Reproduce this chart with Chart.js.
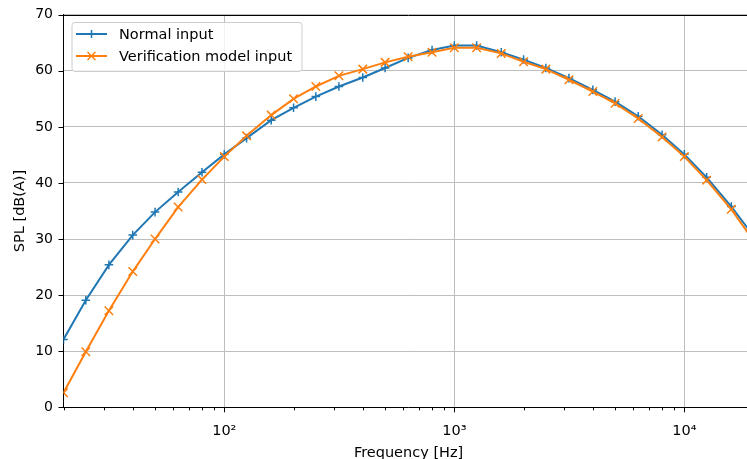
<!DOCTYPE html>
<html>
<head>
<meta charset="utf-8">
<script src="https://cdn.jsdelivr.net/npm/chart.js@4.4.1/dist/chart.umd.min.js"></script>
<style>
html,body{margin:0;padding:0;background:#fff;overflow:hidden;}
#wrap{width:764px;height:459px;}
</style>
</head>
<body>
<div id="wrap"><canvas id="splChart" width="764" height="459"></canvas></div>
<script>

/* data */

const freqs=[20,25,31.5,40,50,63,80,100,125,160,200,250,315,400,500,630,800,1000,1250,1600,2000,2500,3150,4000,5000,6300,8000,10000,12500,16000,20000];

const normalInput=[12.1,19.1,25.4,30.7,34.8,38.4,41.9,45.1,48.0,51.2,53.4,55.4,57.2,58.8,60.5,62.3,63.7,64.5,64.5,63.3,62.0,60.5,58.7,56.6,54.5,51.9,48.6,45.1,41.0,35.8,30.5];

const verificationInput=[2.6,9.9,17.2,24.2,30.0,35.7,40.6,44.7,48.4,52.1,55.0,57.2,59.1,60.3,61.5,62.5,63.3,64.1,64.1,63.1,61.6,60.3,58.4,56.3,54.2,51.5,48.2,44.7,40.5,35.3,29.7];

const seriesLabels=['Normal input','Verification model input'];
const yTicks=[0,10,20,30,40,50,60,70];
const decades=[100,1000,10000];

const FONT='"DejaVu Sans", sans-serif';
const BLUE='#1f77b4', ORANGE='#ff7f0e';
const sup={2:'\u00b2',3:'\u00b3',4:'\u2074'};

function logTicks(min,max){
const out=[];
for(let e=1;e<=4;e++){
for(let m=1;m<=9;m++){
const v=m*Math.pow(10,e);
if(v>=min&&v<=max) out.push({value:v});
}
}
return out;
}

function line(ctx,x1,y1,x2,y2){
ctx.beginPath();ctx.moveTo(x1,y1);ctx.lineTo(x2,y2);ctx.stroke();
}

function marker(ctx,style,x,y,r){
if(style==='cross'){
line(ctx,x-r,y,x+r,y);line(ctx,x,y-r,x,y+r);
}else{
line(ctx,x-r,y-r,x+r,y+r);line(ctx,x-r,y+r,x+r,y-r);
}
}

/* ticks, spines and legend the matplotlib way */

const framePlugin={
id:'frame',
afterDraw(chart){
const {ctx,chartArea:a,scales:{x,y}}=chart;
ctx.save();
ctx.strokeStyle='#000';
ctx.lineWidth=1;

x.ticks.forEach(t=>{
const px=Math.round(x.getPixelForValue(t.value))+0.5;
const len=decades.includes(t.value)?5:3;
line(ctx,px,a.bottom,px,a.bottom+len);
});
y.ticks.forEach(t=>{
const py=Math.round(y.getPixelForValue(t.value))+0.5;
line(ctx,a.left-5,py,a.left,py);
});

line(ctx,a.left,Math.round(a.top)+0.5,a.right,Math.round(a.top)+0.5);
line(ctx,Math.round(a.right)+0.5,a.top,Math.round(a.right)+0.5,a.bottom);

// legend box
const bx=72,by=22.5,bw=230,bh=49;
ctx.beginPath();
ctx.roundRect(bx,by,bw,bh,3);
ctx.fillStyle='rgba(255,255,255,0.8)';
ctx.fill();
ctx.strokeStyle='#cccccc';
ctx.stroke();

const rows=[34,56];
chart.data.datasets.forEach((ds,i)=>{
const ly=rows[i];
ctx.strokeStyle=ds.borderColor;
ctx.lineWidth=2;
line(ctx,76,ly,107,ly);
ctx.lineWidth=1.5;
marker(ctx,ds.pointStyle,91.5,ly,4);
ctx.fillStyle='#000';
ctx.font='14.5px '+FONT;
ctx.textBaseline='middle';
ctx.textAlign='left';
ctx.fillText(ds.label,119,ly+1);
});
ctx.restore();
}
};

const ctx=document.getElementById('splChart');

new Chart(ctx,{
type:'line',
data:{
datasets:[{
label:seriesLabels[0],
data:freqs.map((f,i)=>({x:f,y:normalInput[i]})),
borderColor:BLUE,
backgroundColor:BLUE,
borderWidth:2,
pointStyle:'cross',
pointRadius:4.3,
pointBorderWidth:1.5,
pointHoverRadius:4.3,
tension:0,
order:1
},{
label:seriesLabels[1],
data:freqs.map((f,i)=>({x:f,y:verificationInput[i]})),
borderColor:ORANGE,
backgroundColor:ORANGE,
borderWidth:2,
pointStyle:'crossRot',
pointRadius:6,
pointBorderWidth:1.5,
pointHoverRadius:6,
tension:0,
order:0
}]
},
options:{
responsive:false,
animation:false,
devicePixelRatio:1,
events:[],
layout:{padding:{left:0,top:14.7,right:10.4,bottom:0}},
plugins:{legend:{display:false},tooltip:{enabled:false}},
scales:{
x:{
type:'logarithmic',
min:20,
max:20000,
afterBuildTicks(scale){scale.ticks=logTicks(20,20000);},
afterFit(scale){scale.height=51.7;},
grid:{
color:c=>decades.includes(c.tick&&c.tick.value)?'#bdbdbd':'rgba(0,0,0,0)',
lineWidth:1,
drawTicks:true,
tickLength:5,
tickColor:'rgba(0,0,0,0)'
},
border:{color:'#000',width:1},
ticks:{
autoSkip:false,
maxRotation:0,
padding:10,
color:'#000',
font:{family:FONT,size:14.5},
callback(v){
const e=Math.round(Math.log10(v));
return decades.includes(v)?'10'+sup[e]:'';
}
},
title:{
display:true,
text:'Frequency [Hz]',
color:'#000',
font:{family:FONT,size:14.5,lineHeight:1},
padding:{top:0,bottom:-1}
}
},
y:{
min:0,
max:70,
afterBuildTicks(scale){scale.ticks=yTicks.map(v=>({value:v}));},
afterFit(scale){scale.width=63.5;},
grid:{
color:'#bdbdbd',
lineWidth:1,
drawTicks:true,
tickLength:5,
tickColor:'rgba(0,0,0,0)'
},
border:{color:'#000',width:1},
ticks:{
padding:5.5,
color:'#000',
font:{family:FONT,size:14}
},
title:{
display:true,
text:'SPL [dB(A)]',
color:'#000',
font:{family:FONT,size:14.5,lineHeight:1},
padding:{top:13,bottom:0}
}
}
}
},
plugins:[framePlugin]
});

</script>
</body>
</html>
